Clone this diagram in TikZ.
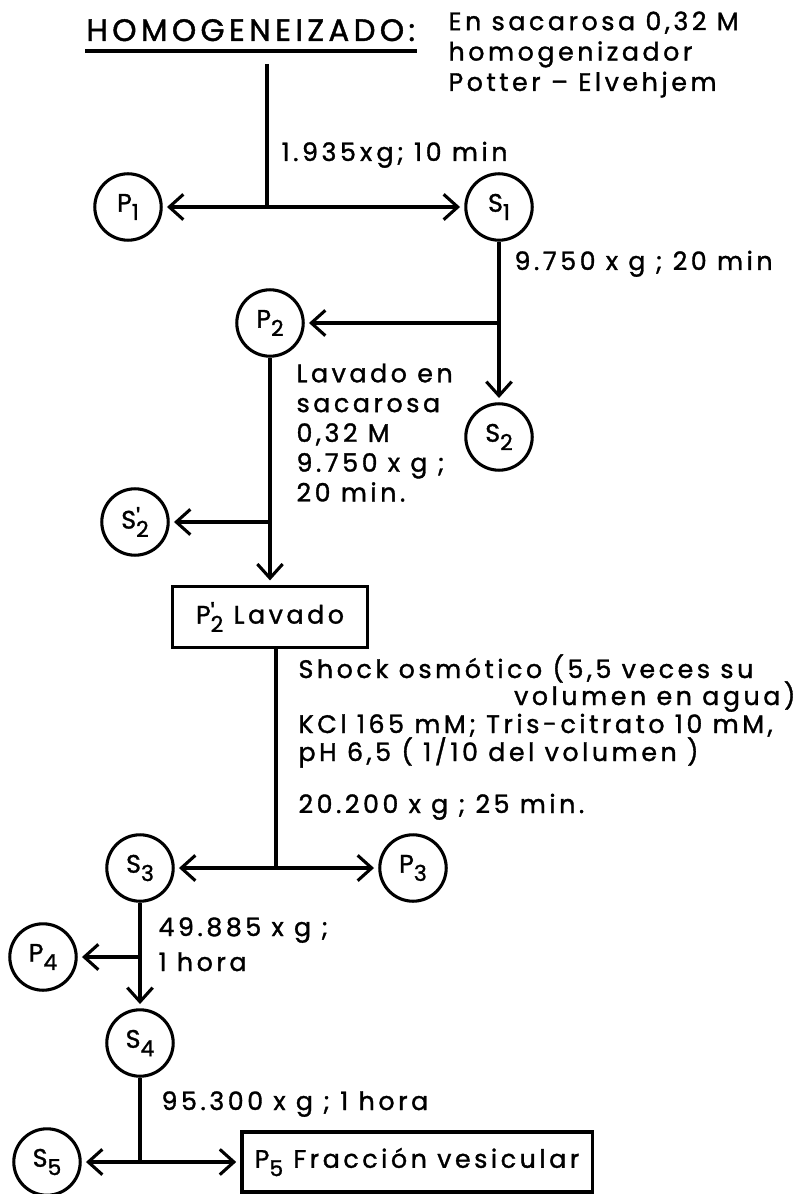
\documentclass[tikz,border=0pt]{standalone}
\usepackage{fontspec}
\setmainfont{Poppins}[LetterSpace=14,FakeBold=1.3]
\usepackage{tikz}
\usetikzlibrary{arrows.meta}
\newcommand{\sbs}[1]{\raisebox{-0.6ex}{\fontsize{7.8}{7.8}\selectfont#1}}
\newcommand{\fr}[2]{#1\sbs{#2}}
\newcommand{\frp}[2]{#1\rlap{\raisebox{0.1ex}{\textquotesingle}}\sbs{#2}}

\begin{document}
\begin{tikzpicture}[x=0.0125cm,y=-0.0125cm,line width=1.1pt,
   font=\fontsize{9}{10}\selectfont,
   frac/.style={circle,draw,minimum size=0.83cm,inner sep=0pt},
   stage/.style={draw,minimum height=0.77cm,inner sep=4pt},
   lbl/.style={anchor=base west,inner sep=0pt},
   arr/.style={-{Straight Barb[length=5pt,width=9pt]},shorten >=1.5pt}]
\useasboundingbox (0,0) rectangle (805,1194);
% homogeneizado
\node[lbl,font=\fontsize{11}{14}\selectfont] (ttl) at (85,41) {HOMOGENEIZADO:};
\draw[line width=1.4pt] ([yshift=-3.5pt]ttl.base west) -- ([yshift=-3.5pt]ttl.base east);
\node[lbl,anchor=north west,align=left,font=\fontsize{9}{10.8}\selectfont] (hom) at (447,10)
   {En sacarosa 0,32 M\\homogenizador\\Potter -- Elvehjem};
\coordinate (top) at (267,64);
\coordinate (j1) at (267,207);
\node[frac] (p1) at (128,207) {\fr{P}{1}};
\node[frac] (s1) at (499,207) {\fr{S}{1}};
\draw (top) -- (j1);
\draw[arr] (j1) -- (p1);
\draw[arr] (j1) -- (s1);
\node[lbl] (c1) at (280,161) {1.935\,x\,g; 10 min};
% primera centrifugacion del sobrenadante
\node[frac] (s2) at (499,437) {\fr{S}{2}};
\node[frac] (p2) at (270,323) {\fr{P}{2}};
\coordinate (j2) at (499,323);
\draw[arr] (s1) -- (s2);
\draw[arr] (j2) -- (p2);
\node[lbl] (c2) at (513,270) {9.750 x g ; 20 min};
% lavado
\node[stage,minimum width=2.43cm] (lav) at (270,617) {\frp{P}{2} Lavado};
\node[frac] (s2b) at (135,522) {\frp{S}{2}};
\coordinate (j3) at (270,522);
\draw[arr] (p2) -- (lav);
\draw[arr] (j3) -- (s2b);
\node[lbl,anchor=north west,align=left,font=\fontsize{9}{10.6}\selectfont] (c3) at (295,362)
   {Lavado en\\sacarosa\\0,32 M\\9.750 x g ;\\20 min.};
% shock osmotico
\coordinate (j4) at (276,868);
\node[frac] (s3) at (140,868) {\fr{S}{3}};
\node[frac] (p3) at (413,868) {\fr{P}{3}};
\draw (lav.south -| j4) -- (j4);
\draw[arr] (j4) -- (s3);
\draw[arr] (j4) -- (p3);
\node[lbl] (c4) at (297,678) {Shock osmótico (5,5 veces su};
\node[lbl,anchor=base east] (c5) at (797,705) {volumen en agua)};
\node[lbl] (c6) at (297,733) {KCl 165 mM; Tris-citrato 10 mM,};
\node[lbl] (c7) at (297,761) {pH 6,5 ( 1/10 del volumen )};
\node[lbl] (c8) at (297,813) {20.200 x g ; 25 min.};
% sobrenadantes S3 y S4
\node[frac] (s4) at (140,1043) {\fr{S}{4}};
\node[frac] (p4) at (43,957) {\fr{P}{4}};
\coordinate (j5) at (140,957);
\draw[arr] (s3) -- (s4);
\draw[arr] (j5) -- (p4);
\node[lbl] (c9) at (157,936) {49.885 x g ;};
\node[lbl] (c10) at (157,971) {1 hora};
% fraccion vesicular
\coordinate (j6) at (140,1162);
\node[frac] (s5) at (47,1162) {\fr{S}{5}};
\node[stage,minimum width=4.375cm,minimum height=0.75cm] (fv) at (417,1162) {\fr{P}{5} Fracción vesicular};
\draw (s4) -- (j6);
\draw[arr] (j6) -- (s5);
\draw[arr] (j6) -- (fv);
\node[lbl] (c11) at (160,1110) {95.300 x g ; 1 hora};
\end{tikzpicture}
\end{document}
